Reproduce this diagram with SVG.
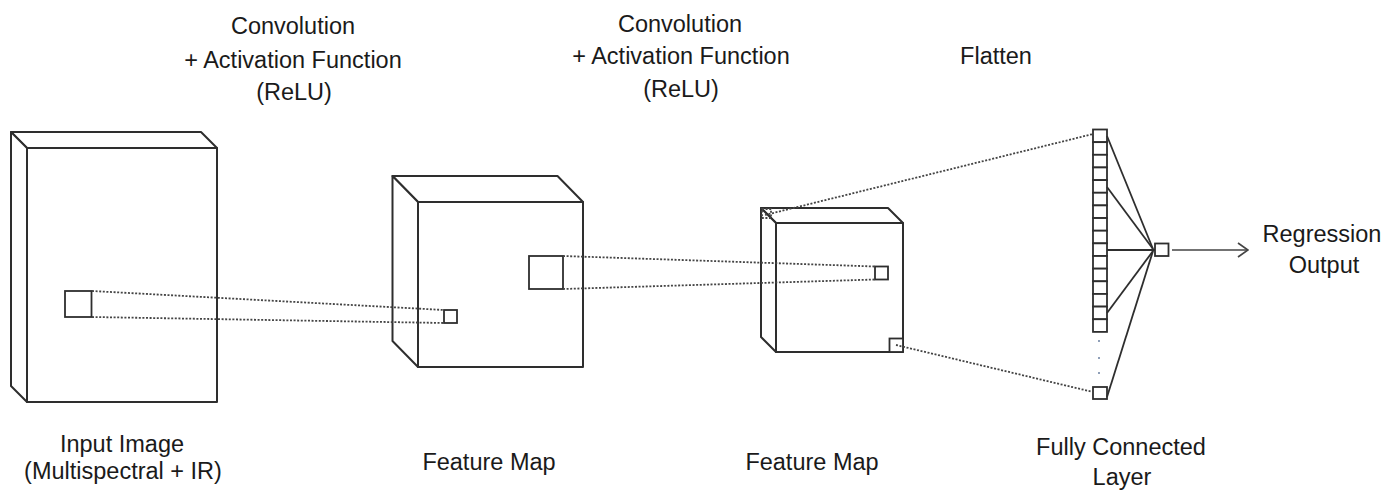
<svg xmlns="http://www.w3.org/2000/svg" width="1398" height="490" viewBox="0 0 1398 490">
<style>
  .t { font-family: "Liberation Sans", Arial, sans-serif; font-size: 23.5px; fill: #1a1a1a; text-anchor: middle; }
  .face { fill: #ffffff; stroke: #2e2e2e; stroke-width: 2; stroke-linejoin: round; }
  .box { fill: #ffffff; stroke: #2e2e2e; stroke-width: 1.8; }
  .dot { fill: none; stroke: #444444; stroke-width: 1.8; stroke-dasharray: 2 1.6; }
  .solid { fill: none; stroke: #2e2e2e; stroke-width: 1.8; }
</style>
<defs>
  <marker id="arrow" viewBox="0 0 12 16" refX="11" refY="8" markerWidth="12" markerHeight="16" markerUnits="userSpaceOnUse" orient="auto">
    <path d="M1,1 L11,8 L1,15" fill="none" stroke="#444444" stroke-width="1.7"/>
  </marker>
</defs>
<rect width="1398" height="490" fill="#ffffff"/>

<g id="input-image">
  <polygon class="face" points="11,132 201,132 217,148 27,148"/>
  <polygon class="face" points="11,132 27,148 27,402 11,386"/>
  <rect class="face" x="27" y="148" width="190" height="254"/>
  <rect class="box" x="65" y="291" width="26.5" height="26"/>
</g>

<g id="feature-map-1">
  <polygon class="face" points="392.5,176 557.5,176 583,202 418,202"/>
  <polygon class="face" points="392.5,176 418,202 418,367 392.5,341"/>
  <rect class="face" x="418" y="202" width="165" height="165"/>
  <rect class="box" x="529" y="256" width="34" height="33"/>
  <rect class="box" x="444" y="310" width="13" height="13"/>
</g>

<g id="feature-map-2">
  <polygon class="face" points="761,208 888,208 903,223 776,223"/>
  <polygon class="face" points="761,208 776,223 776,352 761,337"/>
  <rect class="face" x="776" y="223" width="127" height="129"/>
  <rect class="box" x="875" y="266.5" width="13" height="13"/>
  <rect class="box" x="889.5" y="338.5" width="13.5" height="13.5"/>
  <rect class="dot" x="762" y="209" width="9" height="9"/>
</g>

<g id="fully-connected-layer">
  <rect class="box" x="1093" y="129.5" width="14" height="12.65"/>
  <rect class="box" x="1093" y="142.15" width="14" height="12.65"/>
  <rect class="box" x="1093" y="154.8" width="14" height="12.65"/>
  <rect class="box" x="1093" y="167.45" width="14" height="12.65"/>
  <rect class="box" x="1093" y="180.1" width="14" height="12.65"/>
  <rect class="box" x="1093" y="192.75" width="14" height="12.65"/>
  <rect class="box" x="1093" y="205.4" width="14" height="12.65"/>
  <rect class="box" x="1093" y="218.05" width="14" height="12.65"/>
  <rect class="box" x="1093" y="230.7" width="14" height="12.65"/>
  <rect class="box" x="1093" y="243.35" width="14" height="12.65"/>
  <rect class="box" x="1093" y="256" width="14" height="12.65"/>
  <rect class="box" x="1093" y="268.65" width="14" height="12.65"/>
  <rect class="box" x="1093" y="281.3" width="14" height="12.65"/>
  <rect class="box" x="1093" y="293.95" width="14" height="12.65"/>
  <rect class="box" x="1093" y="306.6" width="14" height="12.65"/>
  <rect class="box" x="1093" y="319.25" width="14" height="12.65"/>
  <circle cx="1099" cy="341" r="1" fill="#6a7fa0"/>
  <circle cx="1099" cy="358" r="1" fill="#6a7fa0"/>
  <circle cx="1099" cy="373" r="1" fill="#6a7fa0"/>
  <rect class="box" x="1093" y="387" width="14" height="12"/>
</g>

<g id="output-node">
  <rect class="box" x="1155" y="243.5" width="13.5" height="12.5"/>
</g>

<g id="connectors">
  <line class="dot" x1="92" y1="291" x2="444" y2="310"/>
  <line class="dot" x1="92" y1="317" x2="444" y2="323"/>
  <line class="dot" x1="563" y1="256" x2="875" y2="266.5"/>
  <line class="dot" x1="563" y1="289" x2="875" y2="279.5"/>
  <line class="dot" x1="765" y1="215" x2="1093" y2="134"/>
  <line class="dot" x1="896" y1="345" x2="1093" y2="392"/>
  <line class="solid" x1="1107" y1="136" x2="1153" y2="249"/>
  <line class="solid" x1="1107" y1="187" x2="1153" y2="249"/>
  <line class="solid" x1="1107" y1="250" x2="1155" y2="250"/>
  <line class="solid" x1="1107" y1="313" x2="1153" y2="251"/>
  <line class="solid" x1="1107" y1="397" x2="1153" y2="251"/>
  <line x1="1172" y1="250" x2="1248" y2="250" stroke="#444444" stroke-width="1.7" marker-end="url(#arrow)"/>
</g>

<g id="labels">
  <text class="t" x="293" y="34">Convolution</text>
  <text class="t" x="293" y="68">+ Activation Function</text>
  <text class="t" x="294" y="100">(ReLU)</text>
  <text class="t" x="680" y="32">Convolution</text>
  <text class="t" x="681" y="64">+ Activation Function</text>
  <text class="t" x="681" y="97">(ReLU)</text>
  <text class="t" x="996" y="64">Flatten</text>
  <text class="t" x="1322" y="242">Regression</text>
  <text class="t" x="1324" y="273">Output</text>
  <text class="t" x="122" y="452">Input Image</text>
  <text class="t" x="123" y="479">(Multispectral + IR)</text>
  <text class="t" x="489" y="470">Feature Map</text>
  <text class="t" x="812" y="470">Feature Map</text>
  <text class="t" x="1121" y="455">Fully Connected</text>
  <text class="t" x="1122" y="485">Layer</text>
</g>
</svg>
